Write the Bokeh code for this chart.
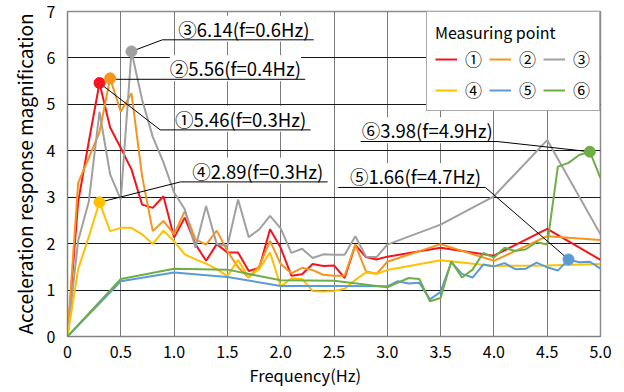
from bokeh.plotting import figure
from bokeh.models import Label, Legend, LegendItem, FixedTicker, Title
from bokeh.embed import file_html
from bokeh.resources import INLINE

# ---------------- data ----------------
freq_a = [0, 0.1, 0.2, 0.3, 0.4, 0.5, 0.6, 0.7, 0.8, 0.9, 1.0,
          1.1, 1.2, 1.3, 1.4, 1.5, 1.6, 1.7, 1.8, 1.9, 2.0,
          2.1, 2.2, 2.3, 2.4, 2.5, 2.6, 2.7, 2.8, 2.9, 3.0,
          3.5, 4.0, 4.5, 5.0]
freq_b = [0, 0.5, 1.0, 1.5, 2.0, 2.5, 3.0,
          3.1, 3.2, 3.3, 3.4, 3.5, 3.6, 3.7, 3.8, 3.9, 4.0,
          4.1, 4.2, 4.3, 4.4, 4.5, 4.6, 4.7, 4.8, 4.9, 5.0]

p1 = [0, 2.90, 4.20, 5.46, 4.50, 4.06, 3.60, 2.84, 2.77, 3.02, 2.13,
      2.56, 1.99, 1.63, 1.99, 1.81, 1.81, 1.41, 1.48, 2.31, 1.91,
      1.31, 1.34, 1.56, 1.52, 1.53, 1.26, 1.97, 1.71, 1.66, 1.72,
      1.91, 1.74, 2.32, 1.65]
p2 = [0, 3.31, 3.85, 4.40, 5.56, 4.84, 5.24, 3.45, 2.27, 2.49, 2.20,
      2.70, 2.09, 1.98, 2.28, 1.84, 1.49, 1.27, 1.52, 2.06, 1.56,
      1.36, 1.48, 1.43, 1.33, 1.31, 1.31, 1.98, 1.40, 1.35, 1.61,
      1.99, 1.63, 2.16, 2.08]
p3 = [0, 2.06, 2.91, 4.84, 3.49, 2.95, 6.14, 5.10, 4.30, 3.75, 3.10,
      2.74, 1.91, 2.81, 1.99, 1.95, 2.95, 2.14, 2.31, 2.60, 2.33,
      1.80, 1.89, 1.69, 1.77, 1.76, 1.76, 2.16, 1.72, 1.71, 1.98,
      2.41, 3.02, 4.23, 2.20]
p4 = [0, 1.45, 2.15, 2.89, 2.27, 2.34, 2.34, 2.20, 1.99, 2.28, 2.05,
      1.77, 1.66, 1.57, 1.45, 1.30, 1.65, 1.27, 1.46, 1.81, 1.08,
      1.25, 1.24, 0.98, 0.97, 0.98, 1.03, 1.22, 1.38, 1.35, 1.43,
      1.64, 1.52, 1.53, 1.56]
p5 = [0, 1.19, 1.38, 1.28, 1.09, 1.09, 1.08,
      1.19, 1.14, 1.16, 0.80, 0.96, 1.60, 1.35, 1.27, 1.55, 1.51,
      1.58, 1.45, 1.46, 1.59, 1.49, 1.42, 1.66, 1.60, 1.61, 1.46]
p6 = [0, 1.24, 1.46, 1.44, 1.21, 1.20, 1.06,
      1.16, 1.26, 1.24, 0.76, 0.83, 1.62, 1.27, 1.44, 1.80, 1.70,
      1.91, 1.84, 1.88, 2.03, 1.98, 3.66, 3.74, 3.91, 3.98, 3.41]

names = ["①", "②", "③", "④", "⑤", "⑥"]
x_ticks = [0, 0.5, 1.0, 1.5, 2.0, 2.5, 3.0, 3.5, 4.0, 4.5, 5.0]
x_tick_labels = ["0", "0.5", "1.0", "1.5", "2.0", "2.5", "3.0", "3.5", "4.0", "4.5", "5.0"]
y_ticks = [0, 1, 2, 3, 4, 5, 6, 7]

# peak index in each series, and annotation text
peak_idx = [3, 4, 6, 3, 23, 25]
ann_text = ["①5.46(f=0.3Hz)", "②5.56(f=0.4Hz)", "③6.14(f=0.6Hz)",
            "④2.89(f=0.3Hz)", "⑤1.66(f=4.7Hz)", "⑥3.98(f=4.9Hz)"]

# ---------------- styling / layout ----------------
colors = ["#F5141E", "#F7941D", "#A0A0A0", "#FFC000", "#5B9BD5", "#70AD47"]
FONT = "Noto Sans CJK JP"
# underline (x start, x end, y) in data units, leader side
ann_layout = [
    (0.87, 2.28, 4.45, "left"),
    (0.45, 2.23, 5.54, "left"),
    (0.89, 2.31, 6.39, "left"),
    (1.06, 2.44, 3.33, "left"),
    (2.54, 3.92, 3.21, "right"),
    (2.75, 4.03, 4.20, "right"),
]

p = figure(width=624, height=392, x_range=(0, 5), y_range=(0, 7),
           output_backend="svg", toolbar_location=None,
           min_border_left=67, min_border_right=24,
           min_border_top=11, min_border_bottom=56)
p.background_fill_color = "white"
p.border_fill_color = "white"
p.outline_line_color = "#8c8c8c"
p.outline_line_width = 1.5

p.xaxis.ticker = FixedTicker(ticks=x_ticks)
p.xaxis.major_label_overrides = {t: l for t, l in zip(x_ticks, x_tick_labels)}
p.yaxis.ticker = FixedTicker(ticks=y_ticks)
for ax in (p.xaxis, p.yaxis):
    ax.major_tick_in = 0
    ax.major_tick_out = 0
    ax.minor_tick_in = 0
    ax.minor_tick_out = 0
    ax.axis_line_color = "#7f7f7f"
    ax.major_label_text_font = FONT
    ax.major_label_text_font_size = "16px"
    ax.major_label_text_color = "#000000"
    ax.axis_label_text_font = FONT
    ax.axis_label_text_font_style = "normal"
    ax.axis_label_text_color = "#000000"
p.yaxis.axis_label = "Acceleration response magnification"
p.yaxis.axis_label_text_font_size = "19px"
p.xaxis.major_label_standoff = 9
p.yaxis.major_label_standoff = 12
p.yaxis.axis_label_standoff = 6

xlabel = Title(text="Frequency(Hz)", align="left", offset=182, standoff=0,
               text_font=FONT, text_font_size="16.5px", text_font_style="normal",
               text_color="black")
p.add_layout(xlabel, "below")

p.xgrid.ticker = FixedTicker(ticks=x_ticks)
p.ygrid.ticker = FixedTicker(ticks=y_ticks)
p.xgrid.grid_line_color = "#7a7a7a"
p.ygrid.grid_line_color = "#1a1a1a"
p.xgrid.grid_line_width = 1
p.ygrid.grid_line_width = 1

series = [(freq_a, p1), (freq_a, p2), (freq_a, p3), (freq_a, p4), (freq_b, p5), (freq_b, p6)]
renderers = []
for (fx, vy), c in zip(series, colors):
    r = p.line(fx, vy, line_color=c, line_width=2)
    renderers.append(r)

# leader lines
for (fx, vy), idx, (x0, x1, yy, side) in zip(series, peak_idx, ann_layout):
    mx, my = fx[idx], vy[idx]
    if side == "left":
        p.line([mx, x0, x1], [my, yy, yy], line_color="black", line_width=1)
    else:
        p.line([x0, x1, mx], [yy, yy, my], line_color="black", line_width=1)

# peak markers
for (fx, vy), idx, c in zip(series, peak_idx, colors):
    p.scatter([fx[idx]], [vy[idx]], size=11, fill_color=c, line_color=c)

# labels (white boxes over the grid, under the lines)
for txt, (x0, x1, yy, side) in zip(ann_text, ann_layout):
    lab = Label(x=x1 - 0.04, y=yy - 0.04, text=txt, text_align="right",
                text_baseline="bottom", text_font=FONT, text_font_size="18.5px",
                text_color="black", background_fill_color="white",
                level="underlay")
    p.add_layout(lab)

items = [LegendItem(label=n, renderers=[r]) for n, r in zip(names, renderers)]
legend = Legend(items=items, location="top_right", orientation="horizontal", ncols=3,
                title="Measuring point", title_text_font=FONT, title_text_font_size="16px",
                title_text_font_style="normal", title_text_color="black", title_standoff=2,
                label_text_font=FONT, label_text_font_size="17px", label_text_color="black",
                glyph_width=22, glyph_height=20, label_standoff=8, label_width=18,
                label_height=20, spacing=6, padding=8, margin=0,
                border_line_color="#555555", border_line_width=1,
                background_fill_color="white", background_fill_alpha=1.0)
p.add_layout(legend)

open("out.html", "w").write(file_html(p, INLINE))
